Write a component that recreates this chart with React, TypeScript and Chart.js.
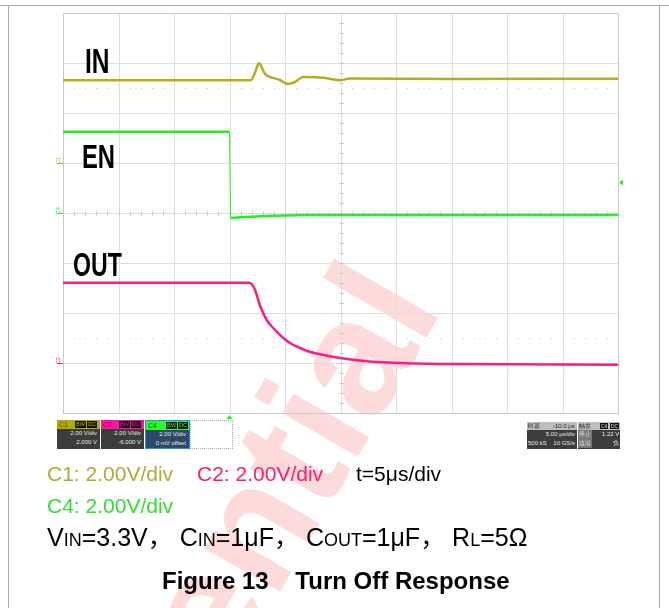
import React, { useEffect, useRef } from "react";
import { Chart, registerables } from "chart.js";

Chart.register(...registerables);

// ---- scope settings ----
const TIME_MIN_US = -15;
const TIME_MAX_US = 35;
const TIME_PER_DIV_US = 5;
const DIV_MIN = -4;
const DIV_MAX = 4;
const VOLTS_PER_DIV = 2;
const C1_GROUND_DIV = 1;
const C4_GROUND_DIV = 0;
const C2_GROUND_DIV = -3;
const TRIGGER_TIME_US = 0;
const TRIGGER_LEVEL_V = 1.22;
const DOTTED_REF_DIVS = [2.5, -2.5];

// ---- traces (time in us, volts) ----
const inTimeUs = [-15, 1.9, 2.3, 2.55, 2.66, 2.8, 3.0, 3.3, 3.65, 4.5, 5.27, 5.9, 6.62, 7.5, 8.42, 9.4, 9.95, 10.86, 20, 35];
const inVolts = [3.31, 3.31, 3.62, 3.93, 3.99, 3.93, 3.72, 3.52, 3.44, 3.33, 3.16, 3.24, 3.44, 3.43, 3.41, 3.34, 3.31, 3.38, 3.36, 3.37];

const enTimeUs = [-15, 0, 0.1, 1.0, 3.9, 7.0, 35];
const enVolts = [3.25, 3.25, -0.2, -0.17, -0.11, -0.08, -0.08];

const outTimeUs = [-15, 1.7, 2.0, 2.3, 2.75, 3.35, 3.9, 4.8, 5.45, 6.35, 7.0, 7.85, 9.95, 12.36, 15.36, 19.9, 35];
const outVolts = [3.21, 3.21, 3.16, 2.92, 2.3, 1.72, 1.42, 1.02, 0.8, 0.6, 0.48, 0.38, 0.2, 0.07, 0.0, -0.04, -0.07];

const C1_COLOR = "#b5ad1c";
const C2_COLOR = "#ff1a85";
const C4_COLOR = "#22ee22";

const toPoints = (t: number[], v: number[], ground: number) =>
  t.map((x, i) => ({ x, y: ground + v[i] / VOLTS_PER_DIV }));

const scopePlugin = {
  id: "scopeGrid",
  beforeDatasetsDraw(chart: any) {
    const { ctx, chartArea: a, scales } = chart;
    const xs = scales.x;
    const ys = scales.y;
    ctx.save();
    ctx.lineWidth = 1;
    ctx.strokeStyle = "#dedede";
    ctx.beginPath();
    for (let i = 0; i <= (TIME_MAX_US - TIME_MIN_US) / TIME_PER_DIV_US; i++) {
      const px = Math.round(xs.getPixelForValue(TIME_MIN_US + i * TIME_PER_DIV_US)) + 0.5;
      ctx.moveTo(px, a.top);
      ctx.lineTo(px, a.bottom);
    }
    for (let d = DIV_MIN; d <= DIV_MAX; d++) {
      const py = Math.round(ys.getPixelForValue(d)) + 0.5;
      ctx.moveTo(a.left, py);
      ctx.lineTo(a.right, py);
    }
    ctx.stroke();
    // border
    ctx.strokeStyle = "#c9c9c9";
    ctx.strokeRect(Math.round(a.left) + 0.5, Math.round(a.top) + 0.5, Math.round(a.width), Math.round(a.height));
    // centre ticks
    const cx = Math.round(xs.getPixelForValue((TIME_MIN_US + TIME_MAX_US) / 2)) + 0.5;
    const cy = Math.round(ys.getPixelForValue(0)) + 0.5;
    ctx.strokeStyle = "#c4c4c4";
    ctx.beginPath();
    for (let k = DIV_MIN * 5; k <= DIV_MAX * 5; k++) {
      const py = Math.round(ys.getPixelForValue(k / 5)) + 0.5;
      ctx.moveTo(cx - 2, py);
      ctx.lineTo(cx + 2, py);
    }
    const nx = ((TIME_MAX_US - TIME_MIN_US) / TIME_PER_DIV_US) * 5;
    for (let k = 0; k <= nx; k++) {
      const px = Math.round(xs.getPixelForValue(TIME_MIN_US + (k * TIME_PER_DIV_US) / 5)) + 0.5;
      ctx.moveTo(px, cy - 2);
      ctx.lineTo(px, cy + 2);
    }
    ctx.stroke();
    // dotted reference lines
    ctx.fillStyle = "#c8c8c8";
    DOTTED_REF_DIVS.forEach((d) => {
      const py = Math.round(ys.getPixelForValue(d));
      for (let k = 1; k < nx; k++) {
        const px = Math.round(xs.getPixelForValue(TIME_MIN_US + (k * TIME_PER_DIV_US) / 5));
        ctx.fillRect(px, py, 1, 1);
      }
    });
    ctx.restore();
  },
  afterDatasetsDraw(chart: any) {
    const { ctx, chartArea: a, scales } = chart;
    const xs = scales.x;
    const ys = scales.y;
    ctx.save();
    // trigger position marker
    const tx = xs.getPixelForValue(TRIGGER_TIME_US);
    ctx.fillStyle = C4_COLOR;
    ctx.beginPath();
    ctx.moveTo(tx, a.bottom + 2);
    ctx.lineTo(tx - 3, a.bottom + 6);
    ctx.lineTo(tx + 3, a.bottom + 6);
    ctx.closePath();
    ctx.fill();
    // trigger level marker
    const ty = ys.getPixelForValue(C4_GROUND_DIV + TRIGGER_LEVEL_V / VOLTS_PER_DIV);
    ctx.beginPath();
    ctx.moveTo(a.right + 1, ty);
    ctx.lineTo(a.right + 5, ty - 3);
    ctx.lineTo(a.right + 5, ty + 3);
    ctx.closePath();
    ctx.fill();
    // ground markers
    const gm: [number, string][] = [
      [C1_GROUND_DIV, C1_COLOR],
      [C4_GROUND_DIV, C4_COLOR],
      [C2_GROUND_DIV, C2_COLOR],
    ];
    gm.forEach(([g, c]) => {
      const py = Math.round(ys.getPixelForValue(g)) + 0.5;
      ctx.strokeStyle = c;
      ctx.lineWidth = 1;
      ctx.beginPath();
      ctx.moveTo(a.left - 6, py);
      ctx.lineTo(a.left, py);
      ctx.stroke();
    });
    ctx.restore();
  },
};

const abs = (l: number, t: number, extra: React.CSSProperties = {}): React.CSSProperties => ({
  position: "absolute",
  left: l,
  top: t,
  ...extra,
});

function ChanBox(props: {
  left: number;
  width: number;
  head: string;
  name: string;
  nameColor: string;
  body: string;
  border?: string;
  l1: string;
  l2: string;
}) {
  return (
    <div
      style={abs(props.left, 420, {
        width: props.width,
        height: 29,
        background: props.body,
        boxSizing: "border-box",
        border: props.border ? `1px solid ${props.border}` : "none",
        fontFamily: "'Liberation Sans', Arial, sans-serif",
      })}
    >
      <div style={{ height: 9, background: props.head, position: "relative" }}>
        <span style={abs(2, 0, { fontSize: 7, lineHeight: "9px", color: props.nameColor })}>{props.name}</span>
        <span
          style={abs(props.width - 25, 1, {
            fontSize: 5.5,
            lineHeight: "7px",
            color: props.head,
            background: "#111",
            padding: "0 1px",
          })}
        >
          BW
        </span>
        <span
          style={abs(props.width - 13, 1, {
            fontSize: 5.5,
            lineHeight: "7px",
            color: props.head,
            background: "#111",
            padding: "0 1px",
          })}
        >
          DC
        </span>
      </div>
      <div style={{ textAlign: "right", fontSize: 6, lineHeight: "9px", color: "#e8e8e8", paddingRight: 3 }}>
        {props.l1}
        <br />
        {props.l2}
      </div>
    </div>
  );
}

export default function App() {
  const canvasRef = useRef<HTMLCanvasElement | null>(null);

  useEffect(() => {
    const canvas = canvasRef.current;
    if (!canvas) return;
    const chart = new Chart(canvas, {
      type: "line",
      data: {
        datasets: [
          {
            label: "IN",
            data: toPoints(inTimeUs, inVolts, C1_GROUND_DIV),
            borderColor: C1_COLOR,
            borderWidth: 2.5,
            pointRadius: 0,
            cubicInterpolationMode: "monotone",
          },
          {
            label: "EN",
            data: toPoints(enTimeUs, enVolts, C4_GROUND_DIV),
            borderColor: C4_COLOR,
            borderWidth: 2.5,
            pointRadius: 0,
            tension: 0,
            segment: {
              borderWidth: (c: any) => (Math.abs(c.p1.parsed.x - c.p0.parsed.x) < 0.2 ? 1 : 2.5),
            },
          } as any,
          {
            label: "OUT",
            data: toPoints(outTimeUs, outVolts, C2_GROUND_DIV),
            borderColor: C2_COLOR,
            borderWidth: 2.5,
            pointRadius: 0,
            cubicInterpolationMode: "monotone",
          },
        ],
      },
      options: {
        animation: false,
        responsive: false,
        maintainAspectRatio: false,
        parsing: false as any,
        layout: { padding: { left: 63, right: 51, top: 13, bottom: 195 } },
        plugins: { legend: { display: false }, tooltip: { enabled: false } },
        events: [],
        scales: {
          x: { type: "linear", min: TIME_MIN_US, max: TIME_MAX_US, display: false },
          y: { type: "linear", min: DIV_MIN, max: DIV_MAX, display: false },
        },
      },
      plugins: [scopePlugin],
    });
    return () => chart.destroy();
  }, []);

  const WM_SIZE = 165;
  const traceLabel: React.CSSProperties = {
    position: "absolute",
    fontFamily: "'Liberation Sans', Arial, sans-serif",
    fontWeight: "bold",
    lineHeight: 1,
    color: "#000",
    transform: "scaleX(0.7)",
    transformOrigin: "0 0",
    whiteSpace: "nowrap",
  };
  const cap: React.CSSProperties = {
    position: "absolute",
    fontFamily: "'Liberation Sans', Arial, sans-serif",
    lineHeight: 1,
    whiteSpace: "pre",
  };
  const sub: React.CSSProperties = { fontSize: "0.72em" };
  const cjk: React.CSSProperties = { fontFamily: "'Noto Sans CJK SC', sans-serif" };

  return (
    <div
      style={{
        position: "absolute",
        left: 0,
        top: 0,
        width: 669,
        height: 608,
        background: "#fff",
        overflow: "hidden",
      }}
    >
      {/* watermark */}
      <div style={abs(-32, 1134, { width: 0, height: 0, transform: "rotate(-60deg)", transformOrigin: "0 0" })}>
        <span
          style={abs(0, -0.8465 * WM_SIZE, {
            fontFamily: "'Liberation Sans', Arial, sans-serif",
            fontWeight: "bold",
            fontSize: WM_SIZE,
            lineHeight: 1,
            color: "rgba(245,40,40,0.17)",
            whiteSpace: "nowrap",
          })}
        >
          Confidential
        </span>
      </div>

      <canvas ref={canvasRef} width={669} height={608} style={abs(0, 0, { display: "block" })} />

      {/* frame */}
      <div style={abs(0, 5, { width: 669, height: 1, background: "#a8a8a8" })} />
      <div style={abs(8, 5, { width: 1, height: 603, background: "#a8a8a8" })} />
      <div style={abs(659, 5, { width: 1, height: 603, background: "#a8a8a8" })} />

      {/* trace labels */}
      <div style={{ ...traceLabel, left: 85, top: 42.5, fontSize: 35 }}>IN</div>
      <div style={{ ...traceLabel, left: 82, top: 138.5, fontSize: 34 }}>EN</div>
      <div style={{ ...traceLabel, left: 73, top: 247.5, fontSize: 33 }}>OUT</div>

      {/* ground marker labels */}
      {[
        ["C1", 158, C1_COLOR],
        ["C4", 208, C4_COLOR],
        ["C2", 358, C2_COLOR],
      ].map(([t, y, c]) => (
        <div
          key={t as string}
          style={abs(55, y as number, {
            fontSize: 5,
            lineHeight: 1,
            color: c as string,
            fontFamily: "'Liberation Sans', Arial, sans-serif",
            transform: "rotate(-90deg)",
            transformOrigin: "50% 50%",
          })}
        >
          {t}
        </div>
      ))}

      {/* channel info boxes */}
      <ChanBox left={57} width={43} head="#b3ab00" name="C1" nameColor="#5e5900" body="#3c3c3c" l1="2.00 V/div" l2="2.000 V" />
      <ChanBox left={101} width={43} head="#ff14a0" name="C2" nameColor="#8a0050" body="#3c3c3c" l1="2.00 V/div" l2="-6.000 V" />
      <ChanBox left={145} width={45} head="#22ff22" name="C4" nameColor="#0a6a0a" body="#2c4a68" border="#2a8cf0" l1="2.00 V/div" l2="0 mV offset" />
      <div style={abs(190, 420, { width: 43, height: 29, boxSizing: "border-box", border: "1px dotted #aaa" })} />

      {/* timebase / trigger boxes */}
      <div
        style={abs(527, 422, {
          width: 50,
          height: 27,
          background: "#3c3c3c",
          fontFamily: "'Liberation Sans', Arial, sans-serif",
          fontSize: 6,
          color: "#e8e8e8",
        })}
      >
        <div style={{ height: 8, background: "#bdbdbd", color: "#222", position: "relative", lineHeight: "8px" }}>
          <span style={abs(1, 0)}>时基</span>
          <span style={abs(26, 0)}>-10.0 μs</span>
        </div>
        <div style={{ textAlign: "right", paddingRight: 2, lineHeight: "9px" }}>5.00 μs/div</div>
        <div style={{ lineHeight: "9px", paddingLeft: 1, whiteSpace: "pre" }}>500 kS    10 GS/s</div>
      </div>
      <div
        style={abs(578, 422, {
          width: 42,
          height: 27,
          background: "#3c3c3c",
          fontFamily: "'Liberation Sans', Arial, sans-serif",
          fontSize: 6,
          color: "#e8e8e8",
        })}
      >
        <div style={{ height: 8, background: "#bdbdbd", color: "#222", position: "relative", lineHeight: "8px" }}>
          <span style={abs(1, 0)}>触发</span>
          <span style={abs(22, 1, { background: "#111", color: "#ddd", fontSize: 5, lineHeight: "6px", padding: "0 1px" })}>C4</span>
          <span style={abs(32, 1, { background: "#111", color: "#ddd", fontSize: 5, lineHeight: "6px", padding: "0 1px" })}>DC</span>
        </div>
        <div style={{ position: "relative", height: 9, lineHeight: "9px" }}>
          <span style={abs(0, 0, { background: "#777", padding: "0 1px" })}>停止</span>
          <span style={abs(24, 0)}>1.22 V</span>
        </div>
        <div style={{ position: "relative", height: 9, lineHeight: "9px" }}>
          <span style={abs(0, 0, { background: "#777", padding: "0 1px" })}>边沿</span>
          <span style={abs(35, 0)}>负</span>
        </div>
      </div>

      {/* captions */}
      <div style={{ ...cap, left: 47, top: 463, fontSize: 21, color: "#b0ac32" }}>C1: 2.00V/div</div>
      <div style={{ ...cap, left: 197, top: 463, fontSize: 21, color: "#ff1a6a" }}>C2: 2.00V/div</div>
      <div style={{ ...cap, left: 356, top: 463, fontSize: 21, color: "#000" }}>t=5μs/div</div>
      <div style={{ ...cap, left: 47, top: 495, fontSize: 21, color: "#2ee02e" }}>C4: 2.00V/div</div>
      <div style={{ ...cap, left: 47, top: 523, fontSize: 25, color: "#000" }}>
        V<span style={sub}>IN</span>=3.3V<span style={cjk}>，</span> C<span style={sub}>IN</span>=1μF<span style={cjk}>，</span> C
        <span style={sub}>OUT</span>=1μF<span style={cjk}>，</span> R<span style={sub}>L</span>=5Ω
      </div>
      <div style={{ ...cap, left: 162, top: 569, fontSize: 24, fontWeight: "bold", color: "#000" }}>
        Figure 13    Turn Off Response
      </div>
    </div>
  );
}
